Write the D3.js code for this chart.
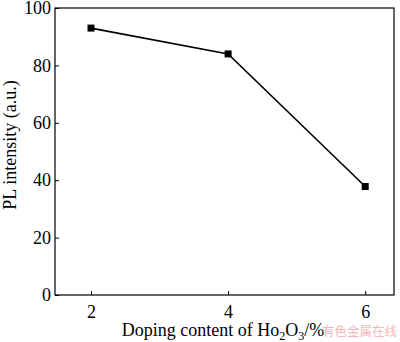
<html>
  <head>
    <meta charset="UTF-8">
    <style>
      body { margin: 0; background: #fff; }
      svg text { font-family: 'Liberation Serif', 'Times New Roman', serif; fill: #000; }
    </style>
  </head>
  <body>
    <svg id="chart" width="400" height="342"></svg>
    <script src="https://cdnjs.cloudflare.com/ajax/libs/d3/7.8.5/d3.min.js"></script>
    <script>
      var doping = [2, 4, 6];
      var intensity = [93, 84, 37.8];
      var xTicks = [2, 4, 6];
      var yTicks = [0, 20, 40, 60, 80, 100];

      var svg = d3.select("#chart"),
          margin = {top: 8, right: 6, bottom: 47, left: 55},
          width = 400 - margin.left - margin.right,
          height = 342 - margin.top - margin.bottom,
          g = svg.append("g").attr("transform", "translate(" + margin.left + "," + margin.top + ")");

      var x = d3.scaleLinear().domain([1.475, 6.42]).range([0, width]),
          y = d3.scaleLinear().domain([0, 100]).range([height, 0]);

      /* frame */
      g.append("rect")
        .attr("width", width)
        .attr("height", height)
        .attr("fill", "none")
        .attr("stroke", "#000")
        .attr("stroke-width", 1.2);

      /* axes, ticks pointing inward */
      var xa = g.append("g")
        .attr("transform", "translate(0," + height + ")")
        .call(d3.axisBottom(x).tickValues(xTicks).tickFormat(d3.format("d"))
          .tickSizeInner(-4).tickSizeOuter(0).tickPadding(10));
      var ya = g.append("g")
        .call(d3.axisLeft(y).tickValues(yTicks).tickFormat(d3.format("d"))
          .tickSizeInner(-4).tickSizeOuter(0).tickPadding(4));
      [xa, ya].forEach(function(a) {
        a.select(".domain").remove();
        a.selectAll("text").style("font-size", "18px").style("font-family", "'Liberation Serif', serif");
      });

      /* data */
      var pts = doping.map(function(d, i) { return {x: d, y: intensity[i]}; });
      var line = d3.line().x(function(d) { return x(d.x); }).y(function(d) { return y(d.y); });

      g.append("path")
        .datum(pts)
        .attr("fill", "none")
        .attr("stroke", "#000")
        .attr("stroke-width", 1.6)
        .attr("d", line);

      g.selectAll(".pt")
        .data(pts)
        .enter().append("rect")
        .attr("x", function(d) { return x(d.x) - 3.5; })
        .attr("y", function(d) { return y(d.y) - 3.5; })
        .attr("width", 7)
        .attr("height", 7)
        .attr("fill", "#000");

      /* labels */
      var xl = svg.append("text")
        .attr("x", 223)
        .attr("y", 336)
        .attr("text-anchor", "middle")
        .style("font-size", "18px");
      xl.append("tspan").text("Doping content of Ho");
      xl.append("tspan").attr("dy", 4).style("font-size", "12px").text("2");
      xl.append("tspan").attr("dy", -4).text("O");
      xl.append("tspan").attr("dy", 4).style("font-size", "12px").text("3");
      xl.append("tspan").attr("dy", -4).text("/%");

      svg.append("text")
        .attr("transform", "translate(16,145) rotate(-90)")
        .attr("text-anchor", "middle")
        .style("font-size", "18px")
        .text("PL intensity (a.u.)");

      svg.append("text")
        .attr("x", 322)
        .attr("y", 336)
        .style("font-family", "'Noto Sans CJK SC', sans-serif")
        .style("font-size", "12.5px")
        .style("fill", "#f2b8b8")
        .text("有色金属在线");
    </script>
  </body>
</html>
